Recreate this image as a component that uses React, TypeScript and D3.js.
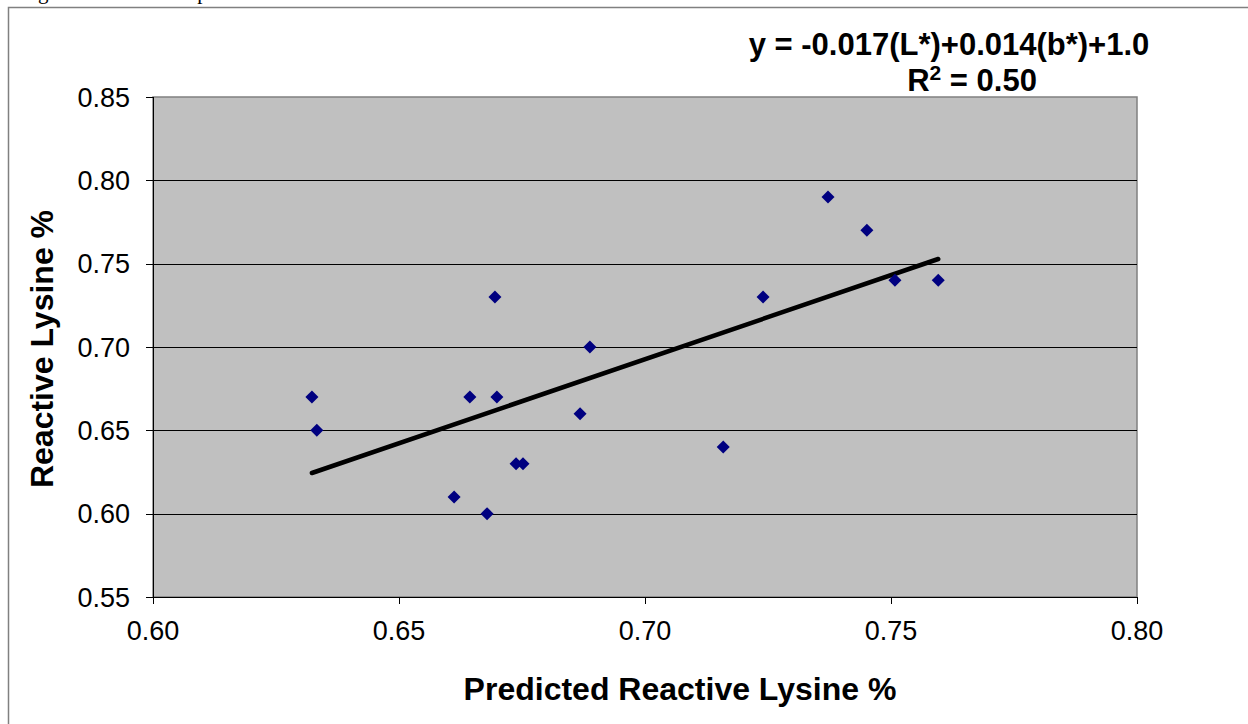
import React from "react";
import * as d3 from "d3";

const predicted = [0.6323, 0.6333, 0.6612, 0.6644, 0.6679, 0.6695, 0.6699, 0.6738, 0.6752, 0.6868, 0.6888, 0.7159, 0.724, 0.7372, 0.7451, 0.7508, 0.7596];
const reactive = [0.67, 0.65, 0.61, 0.67, 0.6, 0.73, 0.67, 0.63, 0.63, 0.66, 0.7, 0.64, 0.73, 0.79, 0.77, 0.74, 0.74];
const trendX = [0.6323, 0.7596];
const trendY = [0.6244, 0.7528];
const xTicks = [0.6, 0.65, 0.7, 0.75, 0.8];
const yTicks = [0.55, 0.6, 0.65, 0.7, 0.75, 0.8, 0.85];

const W = 1248, H = 724;
const L = 153, R = 1137, T = 97, B = 597;

export default function App() {
  const x = d3.scaleLinear().domain([0.6, 0.8]).range([L, R]);
  const y = d3.scaleLinear().domain([0.55, 0.85]).range([B, T]);
  const fmt = d3.format(".2f");
  const line = d3.line<number>().x((d) => x(trendX[d])).y((d) => y(trendY[d]));
  const diamond = d3.symbol().type(d3.symbolDiamond2).size(108)();
  const sans = "'Liberation Sans', Arial, sans-serif";
  return (
    <svg width={W} height={H} style={{ position: "absolute", left: 0, top: 0, background: "#fff" }} fontFamily={sans}>
      <text x={20.5} y={-1} fontFamily="'Liberation Serif', 'Times New Roman', serif" fontSize={21}>Figure 6. Relationship between</text>
      <rect x={8.5} y={7.5} width={W + 10} height={H + 10} fill="#fff" stroke="#808080" strokeWidth={1.5} />
      <rect x={L} y={T} width={R - L} height={B - T} fill="#C0C0C0" stroke="#808080" strokeWidth={1.5} />
      {yTicks.slice(1, -1).map((t) => (
        <line key={"g" + t} x1={L} x2={R} y1={Math.round(y(t)) + 0.5} y2={Math.round(y(t)) + 0.5} stroke="#000" strokeWidth={1} />
      ))}
      {/* y axis */}
      <line x1={L + 0.5} x2={L + 0.5} y1={T} y2={B} stroke="#000" />
      {yTicks.map((t) => (
        <g key={"y" + t}>
          <line x1={L - 7} x2={L} y1={Math.round(y(t)) + 0.5} y2={Math.round(y(t)) + 0.5} stroke="#000" />
          <text x={130} y={y(t) + 9.5} textAnchor="end" fontSize={27}>{fmt(t)}</text>
        </g>
      ))}
      {/* x axis */}
      <line x1={L} x2={R} y1={B + 0.5} y2={B + 0.5} stroke="#000" />
      {xTicks.map((t) => (
        <g key={"x" + t}>
          <line x1={Math.round(x(t)) + 0.5} x2={Math.round(x(t)) + 0.5} y1={B} y2={B + 7} stroke="#000" />
          <text x={x(t)} y={640} textAnchor="middle" fontSize={27}>{fmt(t)}</text>
        </g>
      ))}
      <path d={line([0, 1]) || ""} fill="none" stroke="#000" strokeWidth={4.5} strokeLinecap="round" />
      {predicted.map((p, i) => (
        <path key={"p" + i} d={diamond || ""} transform={`translate(${x(p)},${y(reactive[i])})`} fill="#000080" />
      ))}
      <text x={680} y={700} textAnchor="middle" fontSize={32} fontWeight="bold">Predicted Reactive Lysine %</text>
      <text transform={`translate(53,349) rotate(-90)`} textAnchor="middle" fontSize={32} fontWeight="bold">Reactive Lysine %</text>
      <text x={949} y={55} textAnchor="middle" fontSize={31} fontWeight="bold">y = -0.017(L*)+0.014(b*)+1.0</text>
      <text x={972} y={91} textAnchor="middle" fontSize={31} fontWeight="bold">
        R<tspan dy={-11} fontSize={21}>2</tspan><tspan dy={11}> = 0.50</tspan>
      </text>
    </svg>
  );
}
